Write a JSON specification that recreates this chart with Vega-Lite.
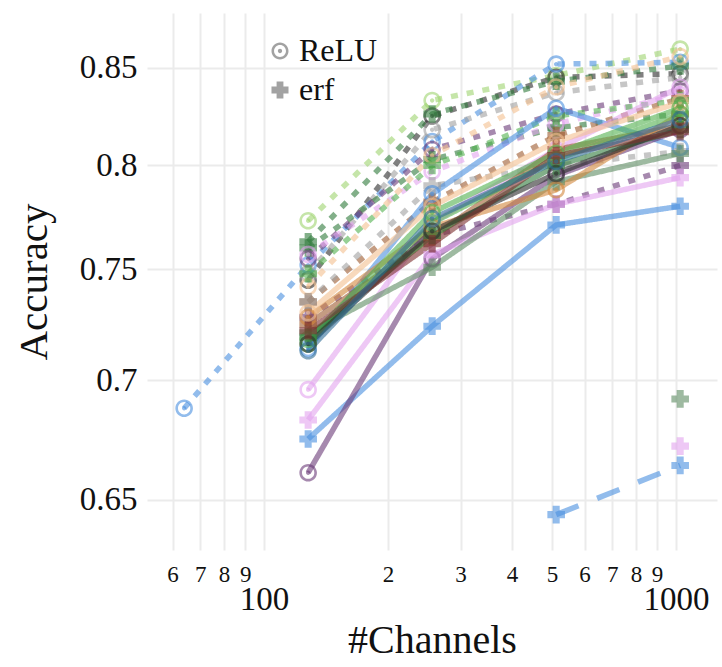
{
  "$schema": "https://vega.github.io/schema/vega-lite/v6.json",
  "width": 570,
  "height": 537,
  "autosize": {"type": "none"},
  "padding": {"left": 147, "top": 13, "right": 5, "bottom": 117},
  "background": "white",
  "config": {
    "view": {"stroke": null},
    "font": "Liberation Serif",
    "axis": {"domain": false, "ticks": false, "gridColor": "#ebebeb", "gridWidth": 2, "labelColor": "#111", "titleColor": "#111", "titleFontWeight": "normal", "labelFont": "Liberation Serif", "titleFont": "Liberation Serif"}
  },
  "data": {"values": [
    {"id":"d1","act":"ReLU","style":"dot","col":"lightgreen","ch":128,"acc":0.773},
    {"id":"d1","act":"ReLU","style":"dot","col":"lightgreen","ch":256,"acc":0.833},
    {"id":"d1","act":"ReLU","style":"dot","col":"lightgreen","ch":512,"acc":0.846},
    {"id":"d1","act":"ReLU","style":"dot","col":"lightgreen","ch":1024,"acc":0.86},
    {"id":"d2","act":"ReLU","style":"dot","col":"black","ch":128,"acc":0.745},
    {"id":"d2","act":"ReLU","style":"dot","col":"black","ch":256,"acc":0.825},
    {"id":"d2","act":"ReLU","style":"dot","col":"black","ch":512,"acc":0.845},
    {"id":"d2","act":"ReLU","style":"dot","col":"black","ch":1024,"acc":0.847},
    {"id":"d3","act":"ReLU","style":"dot","col":"blue","ch":64,"acc":0.688},
    {"id":"d3","act":"ReLU","style":"dot","col":"blue","ch":128,"acc":0.752},
    {"id":"d3","act":"ReLU","style":"dot","col":"blue","ch":256,"acc":0.812},
    {"id":"d3","act":"ReLU","style":"dot","col":"blue","ch":512,"acc":0.852},
    {"id":"d3","act":"ReLU","style":"dot","col":"blue","ch":1024,"acc":0.853},
    {"id":"d4","act":"ReLU","style":"dot","col":"gray","ch":128,"acc":0.748},
    {"id":"d4","act":"ReLU","style":"dot","col":"gray","ch":256,"acc":0.818},
    {"id":"d4","act":"ReLU","style":"dot","col":"gray","ch":512,"acc":0.837},
    {"id":"d4","act":"ReLU","style":"dot","col":"gray","ch":1024,"acc":0.845},
    {"id":"d5","act":"erf","style":"dot","col":"darkgreen","ch":128,"acc":0.763},
    {"id":"d5","act":"erf","style":"dot","col":"darkgreen","ch":256,"acc":0.826},
    {"id":"d5","act":"erf","style":"dot","col":"darkgreen","ch":512,"acc":0.843},
    {"id":"d5","act":"erf","style":"dot","col":"darkgreen","ch":1024,"acc":0.851},
    {"id":"d6","act":"erf","style":"dot","col":"darkgreen","ch":128,"acc":0.76},
    {"id":"d6","act":"erf","style":"dot","col":"darkgreen","ch":256,"acc":0.803},
    {"id":"d6","act":"erf","style":"dot","col":"darkgreen","ch":512,"acc":0.819},
    {"id":"d6","act":"erf","style":"dot","col":"darkgreen","ch":1024,"acc":0.826},
    {"id":"d7","act":"ReLU","style":"dot","col":"purple","ch":128,"acc":0.755},
    {"id":"d7","act":"ReLU","style":"dot","col":"purple","ch":256,"acc":0.808},
    {"id":"d7","act":"ReLU","style":"dot","col":"purple","ch":512,"acc":0.826},
    {"id":"d7","act":"ReLU","style":"dot","col":"purple","ch":1024,"acc":0.838},
    {"id":"d8","act":"ReLU","style":"dot","col":"pink","ch":128,"acc":0.757},
    {"id":"d8","act":"ReLU","style":"dot","col":"pink","ch":256,"acc":0.797},
    {"id":"d8","act":"ReLU","style":"dot","col":"pink","ch":512,"acc":0.821},
    {"id":"d8","act":"ReLU","style":"dot","col":"pink","ch":1024,"acc":0.836},
    {"id":"d9","act":"erf","style":"dot","col":"brown","ch":128,"acc":0.735},
    {"id":"d9","act":"erf","style":"dot","col":"brown","ch":256,"acc":0.782},
    {"id":"d9","act":"erf","style":"dot","col":"brown","ch":512,"acc":0.815},
    {"id":"d9","act":"erf","style":"dot","col":"brown","ch":1024,"acc":0.834},
    {"id":"d10","act":"ReLU","style":"dot","col":"peach","ch":128,"acc":0.742},
    {"id":"d10","act":"ReLU","style":"dot","col":"peach","ch":256,"acc":0.805},
    {"id":"d10","act":"ReLU","style":"dot","col":"peach","ch":512,"acc":0.84},
    {"id":"d10","act":"ReLU","style":"dot","col":"peach","ch":1024,"acc":0.856},
    {"id":"d11","act":"erf","style":"dot","col":"purple","ch":128,"acc":0.728},
    {"id":"d11","act":"erf","style":"dot","col":"purple","ch":256,"acc":0.766},
    {"id":"d11","act":"erf","style":"dot","col":"purple","ch":512,"acc":0.781},
    {"id":"d11","act":"erf","style":"dot","col":"purple","ch":1024,"acc":0.8},
    {"id":"d12","act":"erf","style":"dot","col":"gray","ch":128,"acc":0.735},
    {"id":"d12","act":"erf","style":"dot","col":"gray","ch":256,"acc":0.79},
    {"id":"d12","act":"erf","style":"dot","col":"gray","ch":512,"acc":0.8},
    {"id":"d12","act":"erf","style":"dot","col":"gray","ch":1024,"acc":0.807},
    {"id":"d13","act":"erf","style":"dot","col":"green","ch":128,"acc":0.748},
    {"id":"d13","act":"erf","style":"dot","col":"green","ch":256,"acc":0.8},
    {"id":"d13","act":"erf","style":"dot","col":"green","ch":512,"acc":0.825},
    {"id":"d13","act":"erf","style":"dot","col":"green","ch":1024,"acc":0.833},
    {"id":"s1","act":"ReLU","style":"solid","col":"blue","ch":128,"acc":0.714},
    {"id":"s1","act":"ReLU","style":"solid","col":"blue","ch":256,"acc":0.786},
    {"id":"s1","act":"ReLU","style":"solid","col":"blue","ch":512,"acc":0.829},
    {"id":"s1","act":"ReLU","style":"solid","col":"blue","ch":1024,"acc":0.809},
    {"id":"s2","act":"erf","style":"solid","col":"blue","ch":128,"acc":0.675},
    {"id":"s2","act":"erf","style":"solid","col":"blue","ch":256,"acc":0.724},
    {"id":"s2","act":"erf","style":"solid","col":"blue","ch":512,"acc":0.771},
    {"id":"s2","act":"erf","style":"solid","col":"blue","ch":1024,"acc":0.78},
    {"id":"s3","act":"ReLU","style":"solid","col":"purple","ch":128,"acc":0.661},
    {"id":"s3","act":"ReLU","style":"solid","col":"purple","ch":256,"acc":0.755},
    {"id":"s3","act":"ReLU","style":"solid","col":"purple","ch":512,"acc":0.795},
    {"id":"s3","act":"ReLU","style":"solid","col":"purple","ch":1024,"acc":0.818},
    {"id":"s4","act":"ReLU","style":"solid","col":"pink","ch":128,"acc":0.696},
    {"id":"s4","act":"ReLU","style":"solid","col":"pink","ch":256,"acc":0.772},
    {"id":"s4","act":"ReLU","style":"solid","col":"pink","ch":512,"acc":0.808},
    {"id":"s4","act":"ReLU","style":"solid","col":"pink","ch":1024,"acc":0.84},
    {"id":"s5","act":"erf","style":"solid","col":"pink","ch":128,"acc":0.683},
    {"id":"s5","act":"erf","style":"solid","col":"pink","ch":256,"acc":0.757},
    {"id":"s5","act":"erf","style":"solid","col":"pink","ch":512,"acc":0.781},
    {"id":"s5","act":"erf","style":"solid","col":"pink","ch":1024,"acc":0.794},
    {"id":"s6","act":"erf","style":"solid","col":"graygreen","ch":128,"acc":0.721},
    {"id":"s6","act":"erf","style":"solid","col":"graygreen","ch":256,"acc":0.751},
    {"id":"s6","act":"erf","style":"solid","col":"graygreen","ch":512,"acc":0.792},
    {"id":"s6","act":"erf","style":"solid","col":"graygreen","ch":1024,"acc":0.806},
    {"id":"s7","act":"erf","style":"solid","col":"brown","ch":128,"acc":0.725},
    {"id":"s7","act":"erf","style":"solid","col":"brown","ch":256,"acc":0.765},
    {"id":"s7","act":"erf","style":"solid","col":"brown","ch":512,"acc":0.808},
    {"id":"s7","act":"erf","style":"solid","col":"brown","ch":1024,"acc":0.82},
    {"id":"s8","act":"ReLU","style":"solid","col":"orange","ch":128,"acc":0.728},
    {"id":"s8","act":"ReLU","style":"solid","col":"orange","ch":256,"acc":0.77},
    {"id":"s8","act":"ReLU","style":"solid","col":"orange","ch":512,"acc":0.788},
    {"id":"s8","act":"ReLU","style":"solid","col":"orange","ch":1024,"acc":0.826},
    {"id":"s9","act":"ReLU","style":"solid","col":"peach","ch":128,"acc":0.73},
    {"id":"s9","act":"ReLU","style":"solid","col":"peach","ch":256,"acc":0.78},
    {"id":"s9","act":"ReLU","style":"solid","col":"peach","ch":512,"acc":0.812},
    {"id":"s9","act":"ReLU","style":"solid","col":"peach","ch":1024,"acc":0.832},
    {"id":"s10","act":"ReLU","style":"solid","col":"green","ch":128,"acc":0.718},
    {"id":"s10","act":"ReLU","style":"solid","col":"green","ch":256,"acc":0.777},
    {"id":"s10","act":"ReLU","style":"solid","col":"green","ch":512,"acc":0.806},
    {"id":"s10","act":"ReLU","style":"solid","col":"green","ch":1024,"acc":0.829},
    {"id":"s11","act":"ReLU","style":"solid","col":"green","ch":128,"acc":0.716},
    {"id":"s11","act":"ReLU","style":"solid","col":"green","ch":256,"acc":0.772},
    {"id":"s11","act":"ReLU","style":"solid","col":"green","ch":512,"acc":0.803},
    {"id":"s11","act":"ReLU","style":"solid","col":"green","ch":1024,"acc":0.826},
    {"id":"s12","act":"erf","style":"solid","col":"darkgreen","ch":128,"acc":0.719},
    {"id":"s12","act":"erf","style":"solid","col":"darkgreen","ch":256,"acc":0.766},
    {"id":"s12","act":"erf","style":"solid","col":"darkgreen","ch":512,"acc":0.8},
    {"id":"s12","act":"erf","style":"solid","col":"darkgreen","ch":1024,"acc":0.818},
    {"id":"s13","act":"ReLU","style":"solid","col":"black","ch":128,"acc":0.716},
    {"id":"s13","act":"ReLU","style":"solid","col":"black","ch":256,"acc":0.768},
    {"id":"s13","act":"ReLU","style":"solid","col":"black","ch":512,"acc":0.796},
    {"id":"s13","act":"ReLU","style":"solid","col":"black","ch":1024,"acc":0.82},
    {"id":"s14","act":"erf","style":"solid","col":"maroon","ch":128,"acc":0.722},
    {"id":"s14","act":"erf","style":"solid","col":"maroon","ch":256,"acc":0.762},
    {"id":"s14","act":"erf","style":"solid","col":"maroon","ch":512,"acc":0.805},
    {"id":"s14","act":"erf","style":"solid","col":"maroon","ch":1024,"acc":0.817},
    {"id":"s15","act":"ReLU","style":"solid","col":"teal","ch":128,"acc":0.713},
    {"id":"s15","act":"ReLU","style":"solid","col":"teal","ch":256,"acc":0.774},
    {"id":"s15","act":"ReLU","style":"solid","col":"teal","ch":512,"acc":0.802},
    {"id":"s15","act":"ReLU","style":"solid","col":"teal","ch":1024,"acc":0.823},
    {"id":"b1","act":"erf","style":"dash","col":"blue","ch":512,"acc":0.644},
    {"id":"b1","act":"erf","style":"dash","col":"blue","ch":1024,"acc":0.664},
    {"id":"g1","act":"erf","style":"solid","col":"graygreen","ch":1024,"acc":0.692},
    {"id":"p1","act":"erf","style":"solid","col":"pink","ch":1024,"acc":0.672}
  ]},
  "layer": [
    {
      "mark": {"type": "line", "strokeWidth": 5.5, "opacity": 0.6, "strokeCap": "butt"},
      "encoding": {
        "x": {"field": "ch", "type": "quantitative", "scale": {"type": "log", "domain": [52, 1258], "nice": false},
          "axis": {"orient": "bottom", "values": [60, 70, 80, 90, 200, 300, 400, 500, 600, 700, 800, 900], "labelExpr": "substring(toString(datum.value), 0, 1)", "labelFontSize": 23, "labelPadding": 13, "title": null, "grid": true}},
        "y": {"field": "acc", "type": "quantitative", "scale": {"type": "log", "domain": [0.63, 0.8795], "nice": false, "zero": false},
          "axis": {"values": [0.65, 0.7, 0.75, 0.8, 0.85], "format": ".2~f", "labelFontSize": 33, "labelPadding": 10, "title": "Accuracy", "titleFontSize": 41, "titlePadding": 24}},
        "color": {"field": "col", "type": "nominal", "legend": null,
          "scale": {"domain": ["blue", "lightgreen", "darkgreen", "green", "graygreen", "purple", "pink", "brown", "orange", "peach", "black", "gray", "teal", "maroon"],
            "range": ["#4a8fe0", "#9fd470", "#2f7a3a", "#52b04f", "#5e8c62", "#6a3a78", "#e2a4ee", "#9c5a2e", "#d2873c", "#f4c090", "#2b2b2b", "#a0a0a0", "#2f6d96", "#7c2d2d"]}},
        "strokeDash": {"field": "style", "type": "nominal", "legend": null,
          "scale": {"domain": ["dot", "solid", "dash"], "range": [[7, 9], [1, 0], [24, 20]]}},
        "detail": {"field": "id"}
      }
    },
    {
      "mark": {"type": "point", "filled": true, "size": 310, "opacity": 0.6},
      "encoding": {
        "x": {"field": "ch", "type": "quantitative", "scale": {"type": "log", "domain": [52, 1258], "nice": false},
          "axis": {"orient": "bottom", "values": [100, 1000], "format": "d", "labelFontSize": 33, "labelPadding": 33, "labelDx": 7, "title": "#Channels", "titleFontSize": 40, "titlePadding": 4, "grid": true}},
        "y": {"field": "acc", "type": "quantitative"},
        "color": {"field": "col", "type": "nominal", "legend": null},
        "shape": {"field": "act", "type": "nominal",
          "scale": {"domain": ["ReLU", "erf"], "range": ["M1,0A1,1,0,1,1,-1,0A1,1,0,1,1,1,0ZM0.7,0A0.7,0.7,0,1,0,-0.7,0A0.7,0.7,0,1,0,0.7,0ZM0.25,0A0.25,0.25,0,1,1,-0.25,0A0.25,0.25,0,1,1,0.25,0Z", "cross"]},
          "legend": {"orient": "none", "legendX": 117, "legendY": 22, "title": null, "labelFontSize": 32, "labelFont": "Liberation Serif", "labelColor": "#111", "symbolSize": 290, "labelOffset": 3, "rowPadding": 7,
            "encode": {"symbols": {"update": {"fill": {"value": "#808080"}, "opacity": {"value": 0.75}}}}}}
      }
    }
  ],
  "resolve": {"axis": {"x": "independent"}}
}
